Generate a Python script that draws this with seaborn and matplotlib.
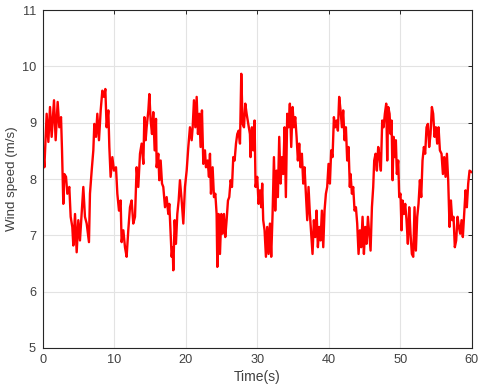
import matplotlib
matplotlib.use("Agg")
import matplotlib.pyplot as plt
import seaborn as sns
import pandas as pd

time_s = [
    0.05, 0.19, 0.51, 0.75, 0.98, 1.21, 1.54, 1.77, 2.05, 2.28, 2.52, 2.66, 2.84, 2.98,
    3.22, 3.40, 3.68, 3.87, 4.10, 4.24, 4.48, 4.71, 4.94, 5.17, 5.41, 5.64, 5.87, 6.11,
    6.43, 6.57, 6.81, 7.04, 7.18, 7.41, 7.60, 7.83, 8.07, 8.30, 8.53, 8.72, 8.90, 9.14,
    9.28, 9.46, 9.70, 9.93, 10.21, 10.40, 10.63, 10.86, 11.00, 11.24, 11.47, 11.70,
    11.93, 12.17, 12.40, 12.63, 12.87, 13.10, 13.33, 13.57,
    13.80, 14.04, 14.18, 14.36, 14.50, 14.74, 14.88, 15.06, 15.25, 15.43, 15.62, 15.81,
    15.90, 16.13, 16.27, 16.46, 16.65, 16.83, 17.07, 17.30, 17.53, 17.67, 17.86, 18.00,
    18.14, 18.23, 18.42, 18.60, 18.79, 18.98, 19.16, 19.40, 19.63, 19.86, 20.10, 20.33,
    20.56, 20.80, 20.94, 21.12, 21.31, 21.50, 21.68, 21.87, 22.05, 22.24, 22.43, 22.66,
    22.80, 23.03, 23.22, 23.36, 23.50, 23.73, 23.92, 24.11, 24.29, 24.39, 24.57, 24.76,
    24.95, 25.13, 25.32, 25.50, 25.69, 25.88, 26.06, 26.25, 26.44, 26.62, 26.81, 27.00,
    27.18, 27.37, 27.56, 27.74, 27.93, 28.12, 28.30, 28.49, 28.72, 28.95,
    29.04, 29.23, 29.41, 29.60, 29.74, 29.97, 30.16, 30.35, 30.53, 30.67, 30.81, 31.00,
    31.19, 31.37, 31.56, 31.75, 31.93, 32.12, 32.31, 32.49, 32.68, 32.86, 33.05, 33.24,
    33.42, 33.61, 33.80, 33.98, 34.17, 34.36, 34.54, 34.73, 34.92, 35.10, 35.29, 35.48,
    35.66, 35.85, 36.03, 36.22, 36.41, 36.59, 36.78, 36.97, 37.15, 37.34, 37.53, 37.71,
    37.90, 38.09, 38.27, 38.46, 38.65, 38.83, 39.02, 39.21, 39.39, 39.58, 39.76, 39.95,
    40.14, 40.32, 40.51, 40.70, 40.88, 41.07, 41.26, 41.44, 41.63, 41.82, 42.00, 42.19,
    42.38, 42.56, 42.75, 42.93,
    43.03, 43.22, 43.40, 43.59, 43.78, 43.96, 44.15, 44.34, 44.52, 44.71, 44.90, 45.08,
    45.27, 45.46, 45.64, 45.83, 46.02, 46.20, 46.34, 46.53, 46.71, 46.90, 47.09, 47.27,
    47.46, 47.65, 47.83, 48.02, 48.16, 48.30, 48.49, 48.63, 48.77, 48.91, 49.05, 49.23,
    49.37, 49.51, 49.70, 49.84, 50.02, 50.16, 50.30, 50.49, 50.68, 50.86, 51.05, 51.24,
    51.42, 51.61, 51.80, 51.98, 52.17, 52.36, 52.54, 52.73, 52.92, 53.10, 53.29, 53.47,
    53.66, 53.85, 54.03, 54.22, 54.41, 54.59, 54.78, 54.97, 55.15, 55.34, 55.53, 55.76,
    55.95, 56.13, 56.32, 56.51, 56.69, 56.88, 57.07, 57.25, 57.44, 57.62, 57.81, 58.00,
    58.18, 58.37, 58.56, 58.74, 58.93, 59.12, 59.30, 59.49, 59.68, 60.00,
]

wind_speed = [
    8.45, 8.21, 9.16, 8.66, 9.28, 8.75, 9.40, 8.69, 9.37, 8.92, 9.10, 8.51, 7.56, 8.09,
    8.04, 7.74, 7.86, 7.33, 7.15, 6.82, 7.38, 6.70, 7.27, 6.91, 7.38, 7.86, 7.33, 7.21,
    6.88, 7.74, 8.15, 8.51, 8.98, 8.75, 9.16, 8.69, 9.22, 9.57, 9.46, 9.60, 8.92, 9.22,
    8.57, 8.04, 8.39, 8.15, 8.21, 7.74, 7.44, 7.62, 6.88, 7.09, 6.79, 6.62,
    7.09, 7.50, 7.62, 7.21, 7.33, 8.21, 7.86, 8.45,
    8.63, 8.27, 9.10, 8.69, 8.92, 9.22, 9.51, 9.04, 8.80, 9.19, 8.51, 9.07,
    8.21, 8.45, 7.98, 8.33, 7.92, 7.86, 7.50, 7.68, 7.38, 7.56, 7.03, 6.62,
    6.79, 6.38, 7.27, 6.85, 7.38, 7.62, 7.98, 7.62, 7.21, 7.86, 8.15, 8.57,
    8.92, 8.69, 8.92, 9.40, 8.92, 9.46, 8.80, 9.16, 8.57, 9.22, 8.27, 8.51,
    8.21, 8.33, 8.04, 8.45, 7.74, 8.21, 7.68, 7.74, 7.38, 6.44, 7.38, 6.67,
    7.38, 7.03, 7.38, 6.97, 7.27, 7.62, 7.68, 7.98, 7.86, 8.39, 8.33, 8.63,
    8.80, 8.86, 8.63, 9.87, 8.98, 8.92, 9.34, 9.16, 8.98, 8.80,
    8.39, 8.92, 8.51, 9.04, 7.86, 8.04, 7.56, 7.80, 7.50, 7.92, 7.27, 7.09,
    6.62, 7.15, 6.67, 7.21, 6.62, 7.38, 8.39, 7.44, 8.15, 7.68, 8.75, 7.92,
    8.39, 8.09, 8.92, 7.68, 9.16, 8.92, 9.34, 8.57, 9.28, 8.92, 9.10, 8.75,
    8.33, 8.63, 8.21, 8.45, 7.92, 8.21, 7.74, 7.27, 7.86, 7.38, 7.03, 6.67,
    7.27, 6.97, 7.44, 6.79, 7.15, 6.91, 7.44, 6.79, 7.44, 7.74, 7.86, 8.27,
    7.92, 8.51, 8.39, 9.10, 8.92, 9.04, 8.86, 9.46, 9.22, 8.92, 9.22, 8.69,
    8.92, 8.33, 8.57, 7.86,
    8.09, 7.74, 7.86, 7.44, 7.50, 7.21, 6.67, 7.09, 6.79, 7.33, 6.67, 7.15,
    6.85, 7.33, 7.03, 6.73, 7.50, 7.86, 8.33, 8.45, 8.15, 8.57, 8.39, 8.15,
    9.04, 8.92, 9.16, 9.34, 8.33, 9.28, 9.16, 8.80, 9.04, 7.98, 8.75, 8.39,
    8.69, 8.09, 8.33, 7.68, 7.74, 7.09, 7.62, 7.38, 7.56, 7.27, 6.85, 7.50,
    7.03, 6.67, 6.62, 7.50, 6.73, 7.33, 7.56, 7.98, 7.68, 8.33, 8.57, 8.45,
    8.92, 8.98, 8.57, 8.80, 9.28, 9.16, 8.75, 8.92, 8.63, 8.92, 8.51, 8.45,
    8.09, 8.39, 8.04, 8.45, 7.98, 7.15, 7.62, 7.27, 7.33, 6.79, 6.91, 7.33,
    7.15, 7.03, 7.27, 6.97, 7.38, 7.80, 7.50, 7.92, 8.15, 8.12,
]

x_ticks = [0, 10, 20, 30, 40, 50, 60]
y_ticks = [5, 6, 7, 8, 9, 10, 11]

sns.set_style("white")
plt.rcParams["font.family"] = ["Liberation Sans", "DejaVu Sans"]

df = pd.DataFrame({"Time(s)": time_s, "Wind speed (m/s)": wind_speed})

fig = plt.figure(figsize=(4.8, 3.91), dpi=100)
ax = fig.add_axes([0.0896, 0.110, 0.8934, 0.864])

sns.lineplot(data=df, x="Time(s)", y="Wind speed (m/s)", color="#ff0000",
             linewidth=1.7, ax=ax, sort=False, estimator=None)

text_col = "#404040"
ax.set_xlim(0, 60)
ax.set_ylim(5, 11)
ax.set_xticks(x_ticks)
ax.set_yticks(y_ticks)
ax.grid(True, color="#e3e3e3", linewidth=0.8)
ax.set_axisbelow(True)
for s in ax.spines.values():
    s.set_visible(True)
    s.set_color("#262626")
    s.set_linewidth(0.8)
ax.tick_params(direction="in", length=3, width=0.7, top=True, right=True,
               labelsize=9.2, colors="#262626", labelcolor=text_col)
ax.tick_params(axis="x", pad=4)
ax.tick_params(axis="y", pad=5)
ax.set_xlabel("Time(s)", fontsize=10, color=text_col, labelpad=3)
ax.set_ylabel("Wind speed (m/s)", fontsize=9.6, color=text_col, labelpad=3)

fig.savefig("out.png", dpi=100)
